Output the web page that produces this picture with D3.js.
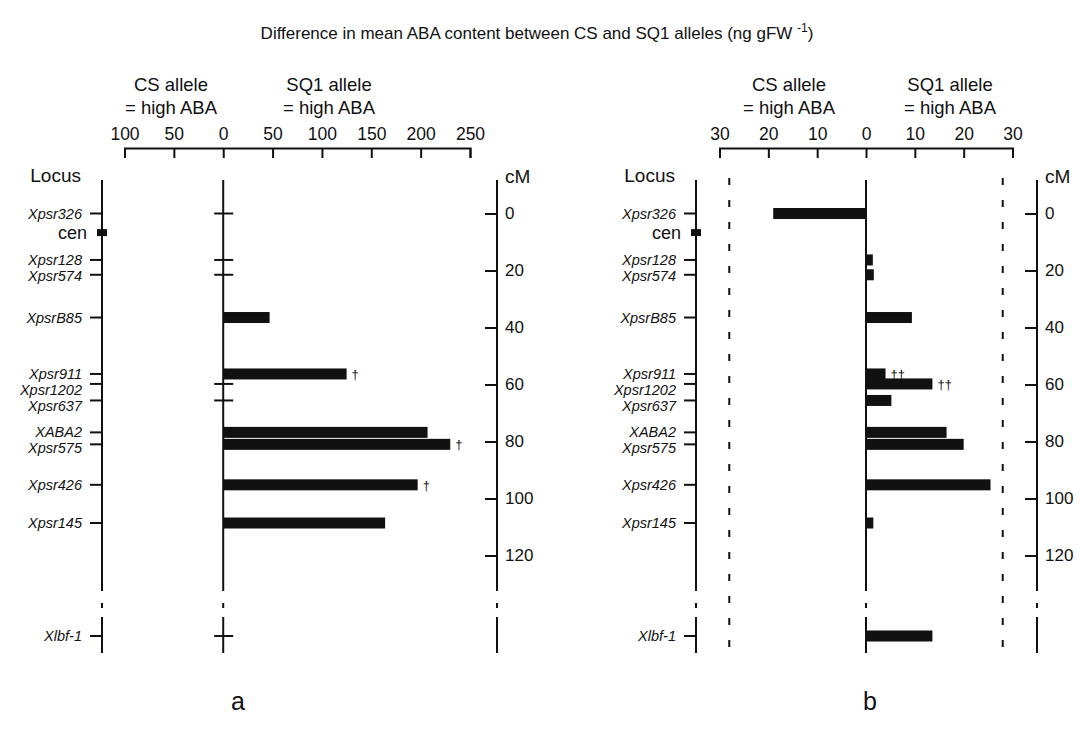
<!DOCTYPE html>
<html>
<head>
<meta charset="utf-8">
<script src="https://cdn.jsdelivr.net/npm/d3@7/dist/d3.min.js"></script>
<style>
  html, body { margin: 0; padding: 0; background: #fff; }
  svg { display: block; font-family: "Liberation Sans", Arial, Helvetica, sans-serif; }
</style>
</head>
<body>
<svg id="chart" width="1080" height="732"></svg>
<script>
// ---------------- DATA ----------------
const loci = ["Xpsr326","Xpsr128","Xpsr574","XpsrB85","Xpsr911","Xpsr1202","Xpsr637","XABA2","Xpsr575","Xpsr426","Xpsr145","Xlbf-1"];
// map position in cM (null = unlinked, drawn below the break)
const lociCM = [0, 16.3, 21.5, 36.5, 56.3, 59.8, 65.6, 76.8, 81.0, 95.2, 108.6, null];
const centromereCM = 6.7;
// panel a: difference in mean ABA content (ng gFW-1); positive = SQ1 allele high
const valuesA = [0, 0, 0, 47, 125, 0, 0, 207, 230, 197, 164, 0];
const daggersA = ["", "", "", "", "\u2020", "", "", "", "\u2020", "\u2020", "", ""];
// panel b
const valuesB = [-19, 1.4, 1.6, 9.4, 4.0, 13.6, 5.2, 16.5, 20.0, 25.5, 1.5, 13.6];
const daggersB = ["", "", "", "", "\u2020\u2020", "\u2020\u2020", "", "", "", "", "", ""];
const thresholdB = 28;
// tick values
const ticksA = [-100, -50, 0, 50, 100, 150, 200, 250];
const ticksB = [-30, -20, -10, 0, 10, 20, 30];
const cmTicks = [0, 20, 40, 60, 80, 100, 120];
const titleText = "Difference in mean ABA content between CS and SQ1 alleles (ng gFW";
const titleSup = "-1";
const panelLetters = ["a", "b"];

// ---------------- LAYOUT ----------------
const svg = d3.select("#chart");
const ink = "#111";
const y = d3.scaleLinear().domain([0, 120]).range([213.5, 555.5]);
const yUnlinked = 636;
const posY = cm => cm === null ? yUnlinked : y(cm);
const axisY = 148;
const lineTop = 180, breakEnd = 591, dotTop = 603, dotBot = 608, lowTop = 617, lowBot = 653;

const panels = [
  { x: d3.scaleLinear().domain([-100, 250]).range([124.5, 470]), ticks: ticksA, values: valuesA, daggers: daggersA,
    locusX: 102, cmX: 497, csX: 171, sqX: 329, letterX: 238, threshold: null, crossZero: true },
  { x: d3.scaleLinear().domain([-30, 30]).range([719.5, 1012.5]), ticks: ticksB, values: valuesB, daggers: daggersB,
    locusX: 696, cmX: 1037, csX: 789, sqX: 950, letterX: 870, threshold: thresholdB, crossZero: false }
];

// title
const title = svg.append("text").attr("x", 537).attr("y", 39).attr("text-anchor", "middle")
  .attr("font-size", 17).attr("fill", ink);
title.append("tspan").text(titleText + " ");
title.append("tspan").attr("dy", -7).attr("font-size", 12).text(titleSup);
title.append("tspan").attr("dy", 7).text(")");

// label positions with simple collision avoidance
function labelPositions() {
  const ys = loci.map((d, i) => posY(lociCM[i]));
  const out = ys.slice();
  for (let i = 1; i < out.length; i++) {
    if (out[i] - out[i - 1] < 16) out[i] = out[i - 1] + 16;
  }
  return out;
}
const labelY = labelPositions();

function vline(g, x) {
  [[lineTop, breakEnd], [dotTop, dotBot], [lowTop, lowBot]].forEach(([a, b]) => {
    g.append("line").attr("x1", x).attr("x2", x).attr("y1", a).attr("y2", b)
      .attr("stroke", ink).attr("stroke-width", 2);
  });
}

panels.forEach((p, pi) => {
  const g = svg.append("g");
  const x = p.x;

  // headers
  [["CS allele", "= high ABA", p.csX], ["SQ1 allele", "= high ABA", p.sqX]].forEach(([a, b, cx]) => {
    g.append("text").attr("x", cx).attr("y", 91).attr("text-anchor", "middle").attr("font-size", 18.5).attr("fill", ink).text(a);
    g.append("text").attr("x", cx).attr("y", 114).attr("text-anchor", "middle").attr("font-size", 18.5).attr("fill", ink).text(b);
  });

  // top value axis (ticks pointing down, labels above)
  const ax = d3.axisTop(x).tickValues(p.ticks).tickSizeInner(-10).tickSizeOuter(-10).tickPadding(8.5)
    .tickFormat(d => Math.abs(d));
  const axG = g.append("g").attr("transform", `translate(0,${axisY})`).call(ax);
  axG.selectAll("path, line").attr("stroke", ink).attr("stroke-width", 2);
  axG.selectAll("text").attr("font-size", 17.5).attr("fill", ink).attr("font-family", "Liberation Sans, Arial, sans-serif");

  // Locus / cM headers
  g.append("text").attr("x", p.locusX - 21).attr("y", 182).attr("text-anchor", "end").attr("font-size", 19).attr("fill", ink).text("Locus");
  g.append("text").attr("x", p.cmX + 8).attr("y", 183).attr("font-size", 19).attr("fill", ink).text("cM");

  // vertical lines: locus axis, zero line, cM axis
  vline(g, p.locusX);
  vline(g, x(0));
  vline(g, p.cmX);

  // threshold dashed lines
  if (p.threshold !== null) {
    [-p.threshold, p.threshold].forEach(t => {
      g.append("line").attr("x1", x(t)).attr("x2", x(t)).attr("y1", lineTop - 2).attr("y2", lowBot)
        .attr("stroke", ink).attr("stroke-width", 2).attr("stroke-dasharray", "7,15");
    });
  }

  // cM axis ticks
  const cmAx = d3.axisRight(y).tickValues(cmTicks).tickSizeInner(-12).tickSizeOuter(0).tickPadding(8);
  const cmG = g.append("g").attr("transform", `translate(${p.cmX},0)`).call(cmAx);
  cmG.select(".domain").remove();
  cmG.selectAll("line").attr("stroke", ink).attr("stroke-width", 2);
  cmG.selectAll("text").attr("font-size", 17).attr("fill", ink).attr("font-family", "Liberation Sans, Arial, sans-serif");

  // centromere
  g.append("rect").attr("x", p.locusX - 5).attr("y", y(centromereCM) - 3.5).attr("width", 10).attr("height", 7).attr("fill", ink);
  g.append("text").attr("x", p.locusX - 15).attr("y", y(centromereCM) + 6).attr("text-anchor", "end")
    .attr("font-size", 18).attr("fill", ink).text("cen");

  // loci
  loci.forEach((name, i) => {
    const yy = posY(lociCM[i]);
    g.append("line").attr("x1", p.locusX - 12).attr("x2", p.locusX).attr("y1", yy).attr("y2", yy)
      .attr("stroke", ink).attr("stroke-width", 2);
    g.append("text").attr("x", p.locusX - 20).attr("y", labelY[i] + 5).attr("text-anchor", "end")
      .attr("font-size", 14.5).attr("font-style", "italic").attr("fill", ink).text(name);
    const v = p.values[i];
    if (v === 0 && p.crossZero) {
      g.append("line").attr("x1", x(0) - 9).attr("x2", x(0) + 10).attr("y1", yy).attr("y2", yy)
        .attr("stroke", ink).attr("stroke-width", 2);
    } else {
      g.append("rect").attr("x", x(Math.min(0, v))).attr("y", yy - 5.5)
        .attr("width", Math.abs(x(v) - x(0))).attr("height", 11).attr("fill", ink);
    }
    if (p.daggers[i]) {
      g.append("text").attr("x", x(v) + 5).attr("y", yy + 5).attr("font-size", 13).attr("fill", ink).text(p.daggers[i]);
    }
  });

  // panel letter
  g.append("text").attr("x", p.letterX).attr("y", 710).attr("text-anchor", "middle")
    .attr("font-size", 25).attr("fill", ink).text(panelLetters[pi]);
});
</script>
</body>
</html>
